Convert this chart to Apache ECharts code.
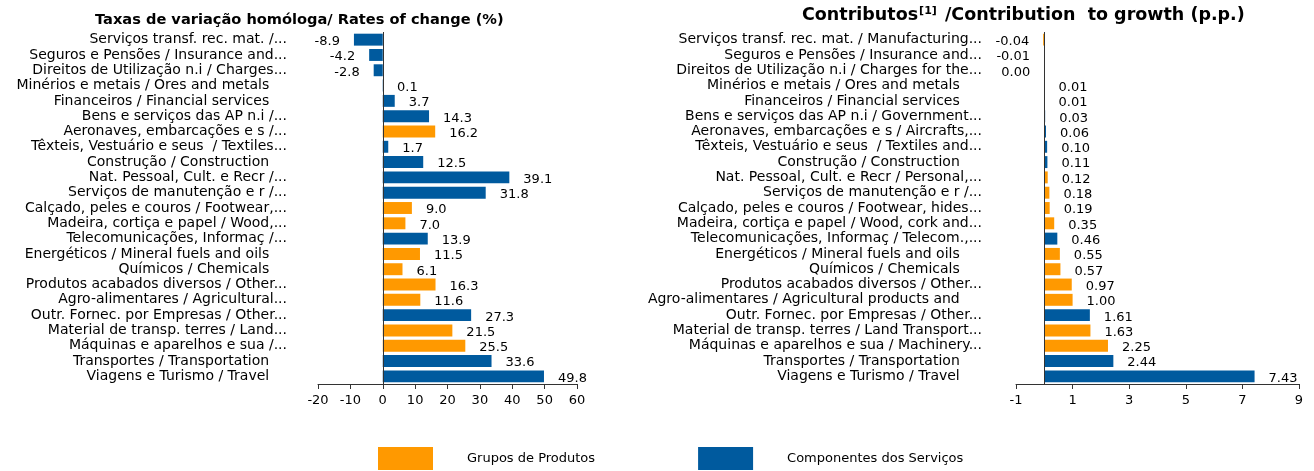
<!DOCTYPE html>
<html lang="pt">
  <head>
    <meta charset="utf-8" />
    <style>
      html, body { margin: 0; background: #fff; }
      #container { width: 1314px; height: 471px; }
    </style>
    <script src="https://cdn.jsdelivr.net/npm/echarts@6/dist/echarts.min.js"></script>
  </head>
  <body>
    <div id="container"></div>
    <script>
      // taxas de variacao (esquerda), de cima para baixo
      var rateCats = [
        "Serviços transf. rec. mat. /...",
        "Seguros e Pensões / Insurance and...",
        "Direitos de Utilização n.i / Charges...",
        "Minérios e metais / Ores and metals    ",
        "Financeiros / Financial services    ",
        "Bens e serviços das AP n.i /...",
        "Aeronaves, embarcações e s /...",
        "Têxteis, Vestuário e seus  / Textiles...",
        "Construção / Construction    ",
        "Nat. Pessoal, Cult. e Recr /...",
        "Serviços de manutenção e r /...",
        "Calçado, peles e couros / Footwear,...",
        "Madeira, cortiça e papel / Wood,...",
        "Telecomunicações, Informaç /...",
        "Energéticos / Mineral fuels and oils    ",
        "Químicos / Chemicals    ",
        "Produtos acabados diversos / Other...",
        "Agro-alimentares / Agricultural...",
        "Outr. Fornec. por Empresas / Other...",
        "Material de transp. terres / Land...",
        "Máquinas e aparelhos e sua /...",
        "Transportes / Transportation    ",
        "Viagens e Turismo / Travel    "
      ];
      var rateValues = [-8.9, -4.2, -2.8, 0.1, 3.7, 14.3, 16.2, 1.7, 12.5, 39.1, 31.8, 9.0, 7.0,
        13.9, 11.5, 6.1, 16.3, 11.6, 27.3, 21.5, 25.5, 33.6, 49.8];
      // P = Grupos de Produtos, S = Componentes dos Servicos (cor usada no grafico)
      var rateGroups = ["S", "S", "S", "S", "S", "S", "P", "S", "S", "S", "S", "P", "P",
        "S", "P", "P", "P", "P", "S", "P", "P", "S", "S"];

      // contributos (direita)
      var contribCats = [
        "Serviços transf. rec. mat. / Manufacturing...",
        "Seguros e Pensões / Insurance and...",
        "Direitos de Utilização n.i / Charges for the...",
        "Minérios e metais / Ores and metals     ",
        "Financeiros / Financial services     ",
        "Bens e serviços das AP n.i / Government...",
        "Aeronaves, embarcações e s / Aircrafts,...",
        "Têxteis, Vestuário e seus  / Textiles and...",
        "Construção / Construction     ",
        "Nat. Pessoal, Cult. e Recr / Personal,...",
        "Serviços de manutenção e r /...",
        "Calçado, peles e couros / Footwear, hides...",
        "Madeira, cortiça e papel / Wood, cork and...",
        "Telecomunicações, Informaç / Telecom.,...",
        "Energéticos / Mineral fuels and oils     ",
        "Químicos / Chemicals     ",
        "Produtos acabados diversos / Other...",
        "Agro-alimentares / Agricultural products and     ",
        "Outr. Fornec. por Empresas / Other...",
        "Material de transp. terres / Land Transport...",
        "Máquinas e aparelhos e sua / Machinery...",
        "Transportes / Transportation     ",
        "Viagens e Turismo / Travel     "
      ];
      var contribValues = [-0.04, -0.01, -0.004, 0.01, 0.01, 0.03, 0.06, 0.10, 0.11, 0.12, 0.18, 0.19,
        0.35, 0.46, 0.55, 0.57, 0.97, 1.00, 1.61, 1.63, 2.25, 2.44, 7.43];
      var contribGroups = ["P", "P", "S", "P", "S", "S", "S", "S", "S", "P", "P", "P",
        "P", "S", "P", "P", "P", "P", "S", "P", "P", "S", "S"];

      var rateTicks = { min: -20, max: 60, interval: 10 };
      var contribTicks = [-1, 1, 3, 5, 7, 9];

      var seriesNames = { P: "Grupos de Produtos", S: "Componentes dos Serviços" };
      var colors = { P: "#FF9900", S: "#005A9E" };

      var font = "'DejaVu Sans', sans-serif";
      var chart = echarts.init(document.getElementById("container"));

      function pick(values, groups, g, decimals, dist) {
        return values.map(function (v, i) {
          if (groups[i] !== g) return "-";
          return {
            value: v,
            label: {
              position: v < 0 ? "left" : "right",
              distance: dist,
              formatter: function () {
                return (Math.round(v * Math.pow(10, decimals)) / Math.pow(10, decimals)).toFixed(decimals);
              }
            }
          };
        });
      }

      function barSeries(g, idx, values, groups, decimals, dist, withZero) {
        var s = {
          name: seriesNames[g],
          type: "bar",
          xAxisIndex: idx,
          yAxisIndex: idx,
          barGap: "-100%",
          barCategoryGap: "22%",
          itemStyle: { color: colors[g] },
          label: {
            show: true,
            color: "#000",
            fontFamily: font,
            fontSize: 13,
            offset: [0, 2]
          },
          data: pick(values, groups, g, decimals, dist)
        };
        if (withZero) {
          s.markLine = {
            silent: true,
            symbol: "none",
            label: { show: false },
            lineStyle: { color: "#333", type: "solid", width: 1 },
            data: [{ xAxis: 0 }]
          };
        }
        return s;
      }

      function catAxis(idx, cats, margin) {
        return {
          type: "category",
          gridIndex: idx,
          inverse: true,
          data: cats,
          axisLine: { show: false },
          axisTick: { show: false },
          axisLabel: { interval: 0, margin: margin, color: "#000", fontFamily: font, fontSize: 14 }
        };
      }

      var baseAxis = {
        axisLine: { show: true, onZero: false, lineStyle: { color: "#333", width: 1 } },
        splitLine: { show: false }
      };

      var option = {
        animation: false,
        textStyle: { fontFamily: font },
        title: [
          {
            text: "Taxas de variação homóloga/ Rates of change (%)",
            left: 90,
            top: 8,
            textStyle: { fontSize: 14.6, fontWeight: "bold", color: "#000", fontFamily: font }
          },
          {
            text: "Contributos{sup|[1]} /Contribution  to growth (p.p.)",
            left: 797,
            top: 1,
            textStyle: {
              fontSize: 17.5, fontWeight: "bold", color: "#000", fontFamily: font,
              rich: {
                sup: { fontSize: 11, fontWeight: "bold", fontFamily: font, color: "#000", verticalAlign: "top", padding: [0, 2, 8, 1] }
              }
            }
          }
        ],
        legend: {
          left: 378,
          top: 447,
          padding: 0,
          icon: "rect",
          itemWidth: 55,
          itemHeight: 23,
          itemGap: 103,
          data: [seriesNames.P, seriesNames.S],
          textStyle: { color: "#000", fontSize: 13, fontFamily: font, padding: [0, 0, 0, 29] }
        },
        grid: [
          { left: 318, right: 737, top: 32, bottom: 87 },
          { left: 1016, right: 15, top: 32, bottom: 87 }
        ],
        xAxis: [
          Object.assign({
            type: "value",
            gridIndex: 0,
            min: rateTicks.min,
            max: rateTicks.max,
            interval: rateTicks.interval,
            axisTick: { show: true, length: 5, lineStyle: { color: "#333" } },
            axisLabel: { color: "#000", fontSize: 13, fontFamily: font, margin: 10 }
          }, baseAxis),
          Object.assign({
            type: "value",
            gridIndex: 1,
            min: contribTicks[0],
            max: contribTicks[contribTicks.length - 1],
            interval: 1,
            axisTick: { show: true, length: 5, lineStyle: { color: "#333" }, customValues: contribTicks },
            axisLabel: { color: "#000", fontSize: 13, fontFamily: font, margin: 10, customValues: contribTicks }
          }, baseAxis)
        ],
        yAxis: [catAxis(0, rateCats, 31), catAxis(1, contribCats, 34)],
        series: [
          barSeries("P", 0, rateValues, rateGroups, 1, 14, false),
          barSeries("S", 0, rateValues, rateGroups, 1, 14, true),
          barSeries("P", 1, contribValues, contribGroups, 2, 14, false),
          barSeries("S", 1, contribValues, contribGroups, 2, 14, true)
        ]
      };
      chart.setOption(option);
    </script>
  </body>
</html>
